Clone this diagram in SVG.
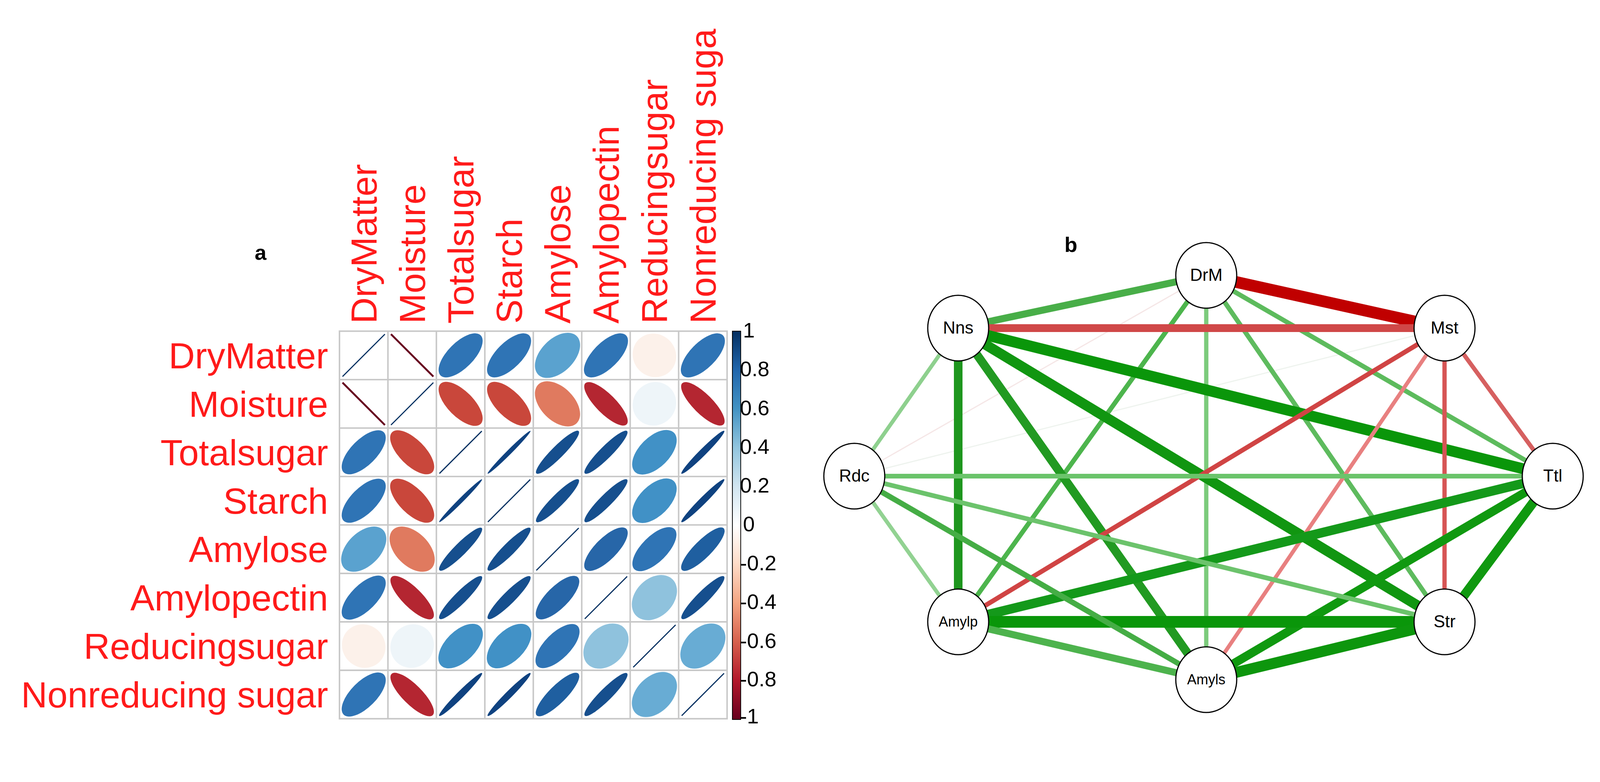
<svg xmlns="http://www.w3.org/2000/svg" width="4236" height="2002" viewBox="0 0 4236 2002">
<style>
.lab{font-family:"Liberation Sans",Arial,sans-serif;font-size:96px;fill:#ff1a1a}
.tick{font-family:"Liberation Sans",Arial,sans-serif;font-size:56px;fill:#000;dominant-baseline:middle}
.pl{font-family:"Liberation Sans",Arial,sans-serif;font-size:54px;font-weight:bold;fill:#000}
.nd ellipse{fill:#fff;stroke:#000;stroke-width:3}
.nd text{font-family:"Liberation Sans",Arial,sans-serif;font-size:44px;fill:#000;text-anchor:middle;dominant-baseline:middle}
.nd text.s{font-size:36px}
.e{fill:none;stroke-linecap:butt}
</style>
<defs>
<linearGradient id="cb" x1="0" y1="0" x2="0" y2="1">
<stop offset="0" stop-color="#053061"/><stop offset="0.1" stop-color="#2166ac"/><stop offset="0.2" stop-color="#4393c3"/><stop offset="0.3" stop-color="#92c5de"/><stop offset="0.4" stop-color="#d1e5f0"/><stop offset="0.5" stop-color="#ffffff"/><stop offset="0.6" stop-color="#fddbc7"/><stop offset="0.7" stop-color="#f4a582"/><stop offset="0.8" stop-color="#d6604d"/><stop offset="0.9" stop-color="#b2182b"/><stop offset="1" stop-color="#67001f"/>
</linearGradient>
</defs>
<rect width="4236" height="2002" fill="#fff"/>
<text class="pl" x="652" y="665">a</text>
<text class="pl" x="2725" y="645">b</text>
<g id="panelA" transform="translate(-3 -3) scale(0.969)">
<g id="rowlabels" class="lab" text-anchor="end">
<text x="870" y="976">DryMatter</text><text x="870" y="1104">Moisture</text><text x="870" y="1232">Totalsugar</text><text x="870" y="1360">Starch</text><text x="870" y="1488">Amylose</text><text x="870" y="1616">Amylopectin</text><text x="870" y="1744">Reducingsugar</text><text x="870" y="1872">Nonreducing sugar</text>
</g>
<g id="collabels" class="lab">
<text transform="translate(998 858) rotate(-90)">DryMatter</text><text transform="translate(1126 858) rotate(-90)">Moisture</text><text transform="translate(1254 858) rotate(-90)">Totalsugar</text><text transform="translate(1382 858) rotate(-90)">Starch</text><text transform="translate(1510 858) rotate(-90)">Amylose</text><text transform="translate(1638 858) rotate(-90)">Amylopectin</text><text transform="translate(1766 858) rotate(-90)">Reducingsugar</text><text transform="translate(1894 858) rotate(-90)">Nonreducing suga</text>
</g>
<g id="matrix">
<g id="cells">
<line x1="908" y1="998" x2="1020" y2="886" stroke="#053061" stroke-width="3"/>
<line x1="1036" y1="886" x2="1148" y2="998" stroke="#67001f" stroke-width="5"/>
<ellipse cx="1220" cy="942" rx="75" ry="34" transform="rotate(-45 1220 942)" fill="#2f74b5"/>
<ellipse cx="1348" cy="942" rx="75" ry="34" transform="rotate(-45 1348 942)" fill="#2f74b5"/>
<ellipse cx="1476" cy="942" rx="72" ry="44" transform="rotate(-45 1476 942)" fill="#5aa2cf"/>
<ellipse cx="1604" cy="942" rx="75" ry="34" transform="rotate(-45 1604 942)" fill="#2f74b5"/>
<ellipse cx="1732" cy="942" rx="56" ry="59" transform="rotate(-45 1732 942)" fill="#fcf1ea"/>
<ellipse cx="1860" cy="942" rx="75" ry="34" transform="rotate(-45 1860 942)" fill="#2f74b5"/>
<line x1="908" y1="1014" x2="1020" y2="1126" stroke="#67001f" stroke-width="5"/>
<line x1="1036" y1="1126" x2="1148" y2="1014" stroke="#053061" stroke-width="3"/>
<ellipse cx="1220" cy="1070" rx="75" ry="34" transform="rotate(45 1220 1070)" fill="#c9473b"/>
<ellipse cx="1348" cy="1070" rx="75" ry="34" transform="rotate(45 1348 1070)" fill="#c9473b"/>
<ellipse cx="1476" cy="1070" rx="72" ry="44" transform="rotate(45 1476 1070)" fill="#e07a5f"/>
<ellipse cx="1604" cy="1070" rx="77" ry="26" transform="rotate(45 1604 1070)" fill="#b42631"/>
<ellipse cx="1732" cy="1070" rx="59" ry="56" transform="rotate(-45 1732 1070)" fill="#eef5f9"/>
<ellipse cx="1860" cy="1070" rx="77" ry="26" transform="rotate(45 1860 1070)" fill="#b42631"/>
<ellipse cx="964" cy="1198" rx="75" ry="34" transform="rotate(-45 964 1198)" fill="#2f74b5"/>
<ellipse cx="1092" cy="1198" rx="75" ry="34" transform="rotate(45 1092 1198)" fill="#c9473b"/>
<line x1="1164" y1="1254" x2="1276" y2="1142" stroke="#053061" stroke-width="3"/>
<ellipse cx="1348" cy="1198" rx="80" ry="6" transform="rotate(-45 1348 1198)" fill="#0f4280"/>
<ellipse cx="1476" cy="1198" rx="79" ry="16" transform="rotate(-45 1476 1198)" fill="#164f8e"/>
<ellipse cx="1604" cy="1198" rx="79" ry="16" transform="rotate(-45 1604 1198)" fill="#164f8e"/>
<ellipse cx="1732" cy="1198" rx="73" ry="40" transform="rotate(-45 1732 1198)" fill="#4191c6"/>
<ellipse cx="1860" cy="1198" rx="80" ry="9" transform="rotate(-45 1860 1198)" fill="#0f4280"/>
<ellipse cx="964" cy="1326" rx="75" ry="34" transform="rotate(-45 964 1326)" fill="#2f74b5"/>
<ellipse cx="1092" cy="1326" rx="75" ry="34" transform="rotate(45 1092 1326)" fill="#c9473b"/>
<ellipse cx="1220" cy="1326" rx="80" ry="6" transform="rotate(-45 1220 1326)" fill="#0f4280"/>
<line x1="1292" y1="1382" x2="1404" y2="1270" stroke="#053061" stroke-width="3"/>
<ellipse cx="1476" cy="1326" rx="79" ry="16" transform="rotate(-45 1476 1326)" fill="#164f8e"/>
<ellipse cx="1604" cy="1326" rx="79" ry="16" transform="rotate(-45 1604 1326)" fill="#164f8e"/>
<ellipse cx="1732" cy="1326" rx="73" ry="40" transform="rotate(-45 1732 1326)" fill="#4191c6"/>
<ellipse cx="1860" cy="1326" rx="80" ry="9" transform="rotate(-45 1860 1326)" fill="#0f4280"/>
<ellipse cx="964" cy="1454" rx="72" ry="44" transform="rotate(-45 964 1454)" fill="#5aa2cf"/>
<ellipse cx="1092" cy="1454" rx="72" ry="44" transform="rotate(45 1092 1454)" fill="#e07a5f"/>
<ellipse cx="1220" cy="1454" rx="79" ry="16" transform="rotate(-45 1220 1454)" fill="#164f8e"/>
<ellipse cx="1348" cy="1454" rx="79" ry="16" transform="rotate(-45 1348 1454)" fill="#164f8e"/>
<line x1="1420" y1="1510" x2="1532" y2="1398" stroke="#053061" stroke-width="3"/>
<ellipse cx="1604" cy="1454" rx="76" ry="29" transform="rotate(-45 1604 1454)" fill="#2766a8"/>
<ellipse cx="1732" cy="1454" rx="75" ry="34" transform="rotate(-45 1732 1454)" fill="#2f74b5"/>
<ellipse cx="1860" cy="1454" rx="78" ry="23" transform="rotate(-45 1860 1454)" fill="#1f5fa0"/>
<ellipse cx="964" cy="1582" rx="75" ry="34" transform="rotate(-45 964 1582)" fill="#2f74b5"/>
<ellipse cx="1092" cy="1582" rx="77" ry="26" transform="rotate(45 1092 1582)" fill="#b42631"/>
<ellipse cx="1220" cy="1582" rx="79" ry="16" transform="rotate(-45 1220 1582)" fill="#164f8e"/>
<ellipse cx="1348" cy="1582" rx="79" ry="16" transform="rotate(-45 1348 1582)" fill="#164f8e"/>
<ellipse cx="1476" cy="1582" rx="76" ry="29" transform="rotate(-45 1476 1582)" fill="#2766a8"/>
<line x1="1548" y1="1638" x2="1660" y2="1526" stroke="#053061" stroke-width="3"/>
<ellipse cx="1732" cy="1582" rx="68" ry="50" transform="rotate(-45 1732 1582)" fill="#8fc2dd"/>
<ellipse cx="1860" cy="1582" rx="79" ry="16" transform="rotate(-45 1860 1582)" fill="#164f8e"/>
<ellipse cx="964" cy="1710" rx="56" ry="59" transform="rotate(-45 964 1710)" fill="#fcf1ea"/>
<ellipse cx="1092" cy="1710" rx="59" ry="56" transform="rotate(-45 1092 1710)" fill="#eef5f9"/>
<ellipse cx="1220" cy="1710" rx="73" ry="40" transform="rotate(-45 1220 1710)" fill="#4191c6"/>
<ellipse cx="1348" cy="1710" rx="73" ry="40" transform="rotate(-45 1348 1710)" fill="#4191c6"/>
<ellipse cx="1476" cy="1710" rx="75" ry="34" transform="rotate(-45 1476 1710)" fill="#2f74b5"/>
<ellipse cx="1604" cy="1710" rx="68" ry="50" transform="rotate(-45 1604 1710)" fill="#8fc2dd"/>
<line x1="1676" y1="1766" x2="1788" y2="1654" stroke="#053061" stroke-width="3"/>
<ellipse cx="1860" cy="1710" rx="70" ry="47" transform="rotate(-45 1860 1710)" fill="#68acd4"/>
<ellipse cx="964" cy="1838" rx="75" ry="34" transform="rotate(-45 964 1838)" fill="#2f74b5"/>
<ellipse cx="1092" cy="1838" rx="77" ry="26" transform="rotate(45 1092 1838)" fill="#b42631"/>
<ellipse cx="1220" cy="1838" rx="80" ry="9" transform="rotate(-45 1220 1838)" fill="#0f4280"/>
<ellipse cx="1348" cy="1838" rx="80" ry="9" transform="rotate(-45 1348 1838)" fill="#0f4280"/>
<ellipse cx="1476" cy="1838" rx="78" ry="23" transform="rotate(-45 1476 1838)" fill="#1f5fa0"/>
<ellipse cx="1604" cy="1838" rx="79" ry="16" transform="rotate(-45 1604 1838)" fill="#164f8e"/>
<ellipse cx="1732" cy="1838" rx="70" ry="47" transform="rotate(-45 1732 1838)" fill="#68acd4"/>
<line x1="1804" y1="1894" x2="1916" y2="1782" stroke="#053061" stroke-width="3"/>
</g>
<g id="grid" fill="none" stroke="#c8c8c8" stroke-width="4">
<rect x="900" y="878" width="1024" height="1024"/>
<path d="M1028 878V1902M1156 878V1902M1284 878V1902M1412 878V1902M1540 878V1902M1668 878V1902M1796 878V1902M900 1006H1924M900 1134H1924M900 1262H1924M900 1390H1924M900 1518H1924M900 1646H1924M900 1774H1924"/>
</g>
</g>
<g id="colorbar">
<rect x="1938" y="878" width="22" height="1026" fill="url(#cb)" stroke="#000" stroke-width="2"/>
<text class="tick" x="1966" y="880">1</text><text class="tick" x="1958" y="982">0.8</text><text class="tick" x="1958" y="1085">0.6</text><text class="tick" x="1958" y="1187">0.4</text><text class="tick" x="1958" y="1290">0.2</text><text class="tick" x="1966" y="1392">0</text><text class="tick" x="1958" y="1495">-0.2</text><text class="tick" x="1958" y="1597">-0.4</text><text class="tick" x="1958" y="1700">-0.6</text><text class="tick" x="1958" y="1802">-0.8</text><text class="tick" x="1958" y="1900">-1</text>
</g>
</g>
<g id="connectors" class="e">
<line x1="3088" y1="705" x2="2187" y2="1219" stroke="#f5e6e6" stroke-width="3"/>
<line x1="3698" y1="840" x2="2187" y2="1219" stroke="#eef3ee" stroke-width="3"/>
<line x1="3088" y1="705" x2="3698" y2="840" stroke="#c00000" stroke-width="30"/>
<line x1="3088" y1="705" x2="2453" y2="840" stroke="#48ae48" stroke-width="18"/>
<line x1="3088" y1="705" x2="2453" y2="1592" stroke="#4db54d" stroke-width="12"/>
<line x1="3088" y1="705" x2="3088" y2="1740" stroke="#7ccb7c" stroke-width="11"/>
<line x1="3088" y1="705" x2="3698" y2="1592" stroke="#5ebb5e" stroke-width="12"/>
<line x1="3088" y1="705" x2="3975" y2="1219" stroke="#5dbb5d" stroke-width="12"/>
<line x1="2453" y1="840" x2="3698" y2="840" stroke="#d04848" stroke-width="20"/>
<line x1="2453" y1="840" x2="3975" y2="1219" stroke="#0a960a" stroke-width="28"/>
<line x1="2453" y1="840" x2="3698" y2="1592" stroke="#119611" stroke-width="26"/>
<line x1="2453" y1="840" x2="3088" y2="1740" stroke="#229a22" stroke-width="22"/>
<line x1="2453" y1="840" x2="2453" y2="1592" stroke="#1e961e" stroke-width="22"/>
<line x1="2453" y1="840" x2="2187" y2="1219" stroke="#8ed08e" stroke-width="10"/>
<line x1="3698" y1="840" x2="2453" y2="1592" stroke="#d04444" stroke-width="12"/>
<line x1="3698" y1="840" x2="3088" y2="1740" stroke="#e88080" stroke-width="10"/>
<line x1="3698" y1="840" x2="3698" y2="1592" stroke="#d65555" stroke-width="11"/>
<line x1="3698" y1="840" x2="3975" y2="1219" stroke="#d66060" stroke-width="11"/>
<line x1="3975" y1="1219" x2="2187" y2="1219" stroke="#6bc46b" stroke-width="12"/>
<line x1="3975" y1="1219" x2="2453" y2="1592" stroke="#14991a" stroke-width="24"/>
<line x1="3975" y1="1219" x2="3088" y2="1740" stroke="#109910" stroke-width="22"/>
<line x1="3975" y1="1219" x2="3698" y2="1592" stroke="#109910" stroke-width="24"/>
<line x1="3698" y1="1592" x2="2453" y2="1592" stroke="#0a960a" stroke-width="30"/>
<line x1="3698" y1="1592" x2="3088" y2="1740" stroke="#0d960d" stroke-width="28"/>
<line x1="3698" y1="1592" x2="2187" y2="1219" stroke="#6cc36c" stroke-width="12"/>
<line x1="2453" y1="1592" x2="3088" y2="1740" stroke="#4db34d" stroke-width="18"/>
<line x1="2453" y1="1592" x2="2187" y2="1219" stroke="#92d292" stroke-width="10"/>
<line x1="3088" y1="1740" x2="2187" y2="1219" stroke="#45ad45" stroke-width="14"/>
</g>
<g id="DrM" class="nd"><ellipse cx="3088" cy="705" rx="78" ry="84"/><text x="3088" y="707">DrM</text></g>
<g id="Mst" class="nd"><ellipse cx="3698" cy="840" rx="78" ry="84"/><text x="3698" y="842">Mst</text></g>
<g id="Ttl" class="nd"><ellipse cx="3975" cy="1219" rx="78" ry="84"/><text x="3975" y="1221">Ttl</text></g>
<g id="Str" class="nd"><ellipse cx="3698" cy="1592" rx="78" ry="84"/><text x="3698" y="1594">Str</text></g>
<g id="Amyls" class="nd"><ellipse cx="3088" cy="1740" rx="78" ry="84"/><text class="s" x="3088" y="1742">Amyls</text></g>
<g id="Amylp" class="nd"><ellipse cx="2453" cy="1592" rx="78" ry="84"/><text class="s" x="2453" y="1594">Amylp</text></g>
<g id="Rdc" class="nd"><ellipse cx="2187" cy="1219" rx="78" ry="84"/><text x="2187" y="1221">Rdc</text></g>
<g id="Nns" class="nd"><ellipse cx="2453" cy="840" rx="78" ry="84"/><text x="2453" y="842">Nns</text></g>
</svg>
